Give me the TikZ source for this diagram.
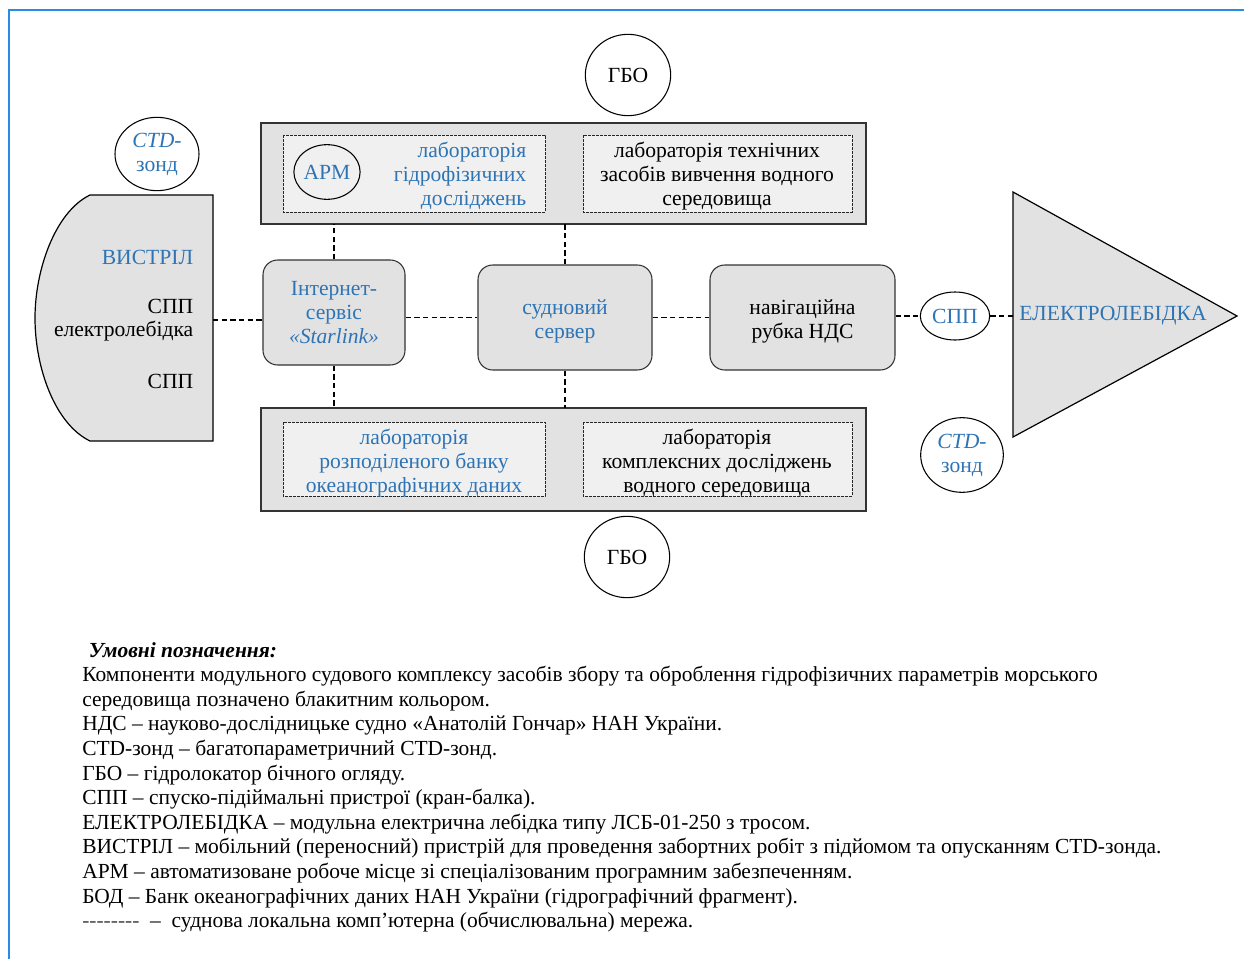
\documentclass[tikz,border=0pt]{standalone}
\usepackage{fontspec}
\setmainfont{Liberation Serif}
\usetikzlibrary{shapes.geometric}
\definecolor{blueT}{RGB}{46,116,181}
\definecolor{frameB}{RGB}{40,140,230}
\definecolor{greyA}{RGB}{226,226,226}
\definecolor{greyB}{RGB}{240,240,240}
\newcommand{\dfs}{\fontsize{16.2pt}{18pt}\selectfont}
\tikzset{
  x=0.75pt, y=-0.75pt,
  every node/.style={font=\dfs},
  bigbox/.style={draw=black!80, line width=0.9pt, fill=greyA},
  labbox/.style={draw=black!85, line width=0.7pt, dash pattern=on 2pt off 1pt, fill=greyB},
  rbox/.style={draw=black!80, line width=0.8pt, fill=greyA, rounded corners=11pt, inner sep=0pt, align=center},
  ell/.style={draw, ellipse, line width=0.8pt, inner sep=0pt, align=center, fill=white},
  net/.style={line width=0.8pt, dash pattern=on 4pt off 2.5pt},
  btext/.style={text=blueT},
}
\begin{document}
\begin{tikzpicture}
\useasboundingbox (0,0) rectangle (1244,959);
% frame
\draw[frameB, line width=1pt] (9,959) -- (9,10) -- (1244,10);

% ВИСТРІЛ shape
\draw[line width=0.9pt, fill=greyA] (213,195) -- (90,195)
  .. controls (55,212) and (35,270) .. (35,318)
  .. controls (35,368) and (55,424) .. (90,441) -- (213,441) -- cycle;
\coordinate (vR) at (213,320);
\node[anchor=east, btext] (vys) at (198,257) {ВИСТРІЛ};
\node[anchor=east] (spp1) at (198,306) {СПП};
\node[anchor=east] (elw) at (198,331) {електролебідка};
\node[anchor=east] (spp2) at (198,381) {СПП};

% CTD top-left
\node[ell, minimum width=63pt, minimum height=55pt] (ctd1) at (157,154) {\textcolor{blueT}{\textit{CTD-}}\\[0pt]\textcolor{blueT}{зонд}};

% ГБО top
\node[ell, minimum width=64pt, minimum height=61pt] (gbo1) at (628,75) {ГБО};

% top box
\draw[bigbox] (261,123) rectangle (866,224);
\coordinate (topS) at (563,224);
\draw[labbox] (283,135) rectangle (545,212);
\draw[labbox] (583,135) rectangle (852,212);
\node[ell, minimum width=49pt, minimum height=41pt, fill=greyB] (arm) at (327,172) {\textcolor{blueT}{АРМ}};
\node[btext, align=right, anchor=east] (labg) at (531,176) {лабораторія\\гідрофізичних\\досліджень};
\node[align=center] (labt) at (717,176) {лабораторія технічних\\засобів вивчення водного\\середовища};

% bottom box
\draw[bigbox] (261,408) rectangle (866,511);
\draw[labbox] (283,422) rectangle (545,496);
\draw[labbox] (583,422) rectangle (852,496);
\node[btext, align=center] (labb) at (414,463) {лабораторія\\розподіленого банку\\океанографічних даних};
\node[align=center] (labk) at (717,463) {лабораторія\\комплексних досліджень\\водного середовища};

% ГБО bottom
\node[ell, minimum width=64pt, minimum height=61pt] (gbo2) at (627,557) {ГБО};

% middle row
\node[rbox, minimum width=106.5pt, minimum height=78.75pt] (star) at (334,312.5)
  {\textcolor{blueT}{Інтернет-}\\\textcolor{blueT}{сервіс}\\\textcolor{blueT}{\textit{«Starlink»}}};
\node[rbox, minimum width=130.5pt, minimum height=78.75pt] (serv) at (565,317.5) {};
\node[btext, align=center] (servT) at (565,321) {судновий\\сервер};
\node[rbox, minimum width=138.75pt, minimum height=78.75pt] (nav) at (802.5,317.5) {};
\node[align=center] (navT) at (802.5,321) {навігаційна\\рубка НДС};

% СПП ellipse
\node[ell, minimum width=52pt, minimum height=36pt] (sppE) at (955,316) {\textcolor{blueT}{СПП}};

% triangle
\draw[line width=0.9pt, fill=greyA] (1013,192) -- (1237,316) -- (1013,437) -- cycle;
\coordinate (triW) at (1013,316);
\node[btext, anchor=west, inner sep=0pt] (elec) at (1019,316) {ЕЛЕКТРОЛЕБІДКА};

% CTD bottom-right
\node[ell, minimum width=62pt, minimum height=56pt] (ctd2) at (962,455) {\textcolor{blueT}{\textit{CTD-}}\\[0pt]\textcolor{blueT}{зонд}};

% network connectors
\draw[net] (vR) -- (vR -| star.west);
\draw[net] (star.east |- serv.west) -- (serv.west);
\draw[net] (serv.east) -- (nav.west);
\draw[net] (nav.east |- sppE.west) -- (sppE.west);
\draw[net] (sppE.east) -- (triW);
\draw[net] (star.north) -- (star.north |- topS);
\draw[net] (star.south) -- (334,408);
\draw[net] (serv.north) -- (serv.north |- topS);
\draw[net] (serv.south) -- (565,408);

% legend
\node[anchor=north west, align=left, inner sep=0pt, font=\fontsize{16.1pt}{18.45pt}\selectfont] (legend) at (82,642) {%
\hspace*{5pt}\textbf{\textit{Умовні позначення:}}\\
Компоненти модульного судового комплексу засобів збору та оброблення гідрофізичних параметрів морського\\
середовища позначено блакитним кольором.\\
НДС – науково-дослідницьке судно «Анатолій Гончар» НАН України.\\
СТD-зонд – багатопараметричний СТD-зонд.\\
ГБО – гідролокатор бічного огляду.\\
СПП – спуско-підіймальні пристрої (кран-балка).\\
ЕЛЕКТРОЛЕБІДКА – модульна електрична лебідка типу ЛСБ-01-250 з тросом.\\
ВИСТРІЛ – мобільний (переносний) пристрій для проведення забортних робіт з підйомом та опусканням СТD-зонда.\\
АРМ – автоматизоване робоче місце зі спеціалізованим програмним забезпеченням.\\
БОД – Банк океанографічних даних НАН України (гідрографічний фрагмент).\\
\textcolor{black!70}{-{}-{}-{}-{}-{}-{}-{}-}\ \ –\ \ суднова локальна комп’ютерна (обчислювальна) мережа.};
\end{tikzpicture}
\end{document}
